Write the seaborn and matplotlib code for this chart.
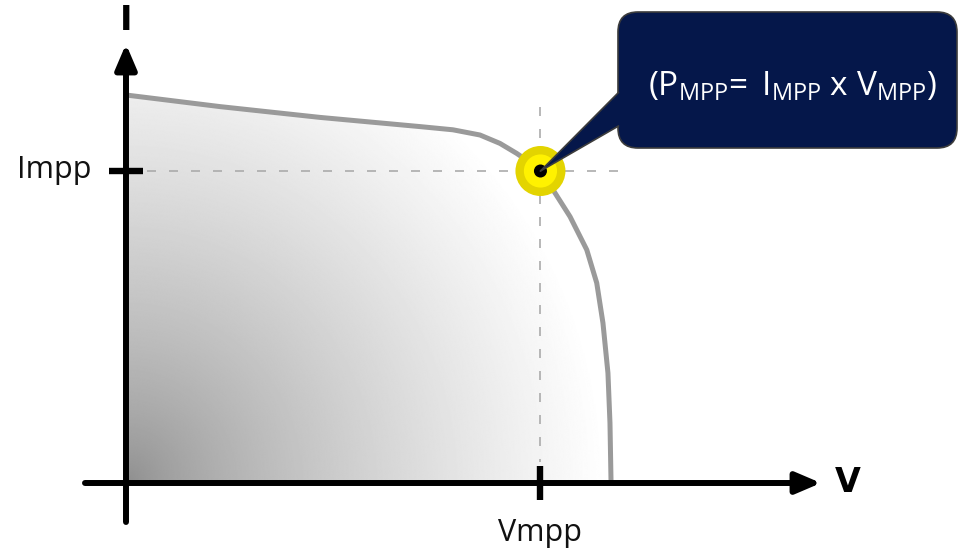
import numpy as np
import matplotlib
matplotlib.use('Agg')
import matplotlib.pyplot as plt
import seaborn as sns
from matplotlib.patches import FancyBboxPatch, Polygon

# I-V curve of the module
voltage = [0.0, 6.96, 14.37, 21.78, 24.22, 26.22, 27.70, 28.94, 30.72,
           31.63, 32.89, 34.13, 34.87, 35.33, 35.70, 35.85, 35.93]
current = [9.70, 9.41, 9.14, 8.91, 8.83, 8.70, 8.49, 8.24, 7.83,
           7.33, 6.66, 5.83, 5.00, 4.00, 2.75, 1.50, 0.0]

# maximum power point
v_mpp = 30.7
i_mpp = 7.8

tick_labels = ['Impp', 'Vmpp']
axis_labels = ['I', 'V']
callout_text = (r'(P$_\mathregular{MPP}$= $\,$I$_\mathregular{MPP}$ '
                r'x V$_\mathregular{MPP}$)')

# canvas layout: pixel position of the origin and pixels per unit
W, H = 959, 551
ORIGIN = (126, 483)
PX_V = 13.5
PX_I = 40.0


def vx(px):
    return (px - ORIGIN[0]) / PX_V


def iy(py):
    return (ORIGIN[1] - py) / PX_I


sns.set_theme(style='white')
plt.rcParams['font.family'] = ['Open Sans', 'DejaVu Sans']

fig = plt.figure(figsize=(W / 100, H / 100), dpi=100)
ax = fig.add_axes([0, 0, 1, 1])

# radial grey gradient under the curve, dark at the origin
gx = np.linspace(0, max(voltage), 400)
gy = np.linspace(0, max(current), 400)
GX, GY = np.meshgrid(gx, gy)
r = np.hypot(GX * PX_V / 480.0, GY * PX_I / 490.0)
shade = 0.55 + 0.45 * np.clip(r, 0, 1) ** 0.72
im = ax.imshow(shade, cmap='gray', vmin=0, vmax=1, origin='lower',
               extent=[0, max(voltage), 0, max(current)], aspect='auto',
               interpolation='bilinear', zorder=1)
clip = Polygon(np.column_stack([voltage + [voltage[-1], 0], current + [0, 0]]),
               closed=True, facecolor='none', edgecolor='none',
               transform=ax.transData)
ax.add_patch(clip)
im.set_clip_path(clip)

# the curve
sns.lineplot(x=voltage, y=current, ax=ax, color='#9a9a9a', linewidth=3.6,
             sort=False, estimator=None, zorder=3)
ax.lines[-1].set_solid_capstyle('butt')
ax.lines[-1].set_solid_joinstyle('round')

# dashed guides
dash = (0, (5.4, 7.8))
ax.plot([vx(147), vx(618)], [i_mpp, i_mpp], color='#ababab', lw=1.2,
        linestyle=dash, zorder=2)
ax.plot([v_mpp, v_mpp], [iy(107), iy(462)], color='#ababab', lw=1.2,
        linestyle=dash, zorder=2)

# axes with arrows
arrow = dict(arrowstyle='-|>,head_length=0.75,head_width=0.32', color='black',
             lw=4.3, shrinkA=0, shrinkB=0, mutation_scale=20)
ax.annotate('', xy=(0, iy(44)), xytext=(0, iy(522)), arrowprops=arrow, zorder=5)
ax.annotate('', xy=(vx(821), 0), xytext=(vx(85), 0), arrowprops=arrow, zorder=5)

# ticks at the MPP values
ax.plot([0], [i_mpp], marker='_', markersize=24.5, mew=4.6, color='black', zorder=5)
ax.plot([v_mpp], [0], marker='|', markersize=24.5, mew=4.6, color='black', zorder=5)

ax.text(vx(91), iy(178), tick_labels[0], fontsize=22, ha='right', va='baseline',
        color='#111111')
ax.text(v_mpp, iy(541), tick_labels[1], fontsize=22, ha='center', va='baseline',
        color='#111111')
ax.text(0, iy(20), axis_labels[0], fontsize=24, fontweight='bold',
        family='DejaVu Sans', ha='center', va='center', color='black')
ax.text(vx(848), 0, axis_labels[1], fontsize=24, fontweight='bold',
        family='DejaVu Sans', ha='center', va='center', color='black')

# MPP marker
sns.scatterplot(x=[v_mpp], y=[i_mpp], ax=ax, s=1296, color='#e3d400',
                edgecolor='none', zorder=6)
sns.scatterplot(x=[v_mpp], y=[i_mpp], ax=ax, s=570, color='#fff200',
                edgecolor='none', zorder=6)
sns.scatterplot(x=[v_mpp], y=[i_mpp], ax=ax, s=88, color='black',
                edgecolor='none', zorder=7)

# callout
navy = '#05174a'
box = FancyBboxPatch((vx(618), iy(148)), vx(957) - vx(618), iy(12) - iy(148),
                     boxstyle='round,pad=0,rounding_size=%f' % (20 / PX_V),
                     mutation_aspect=PX_V / PX_I, facecolor=navy,
                     edgecolor='#3c3c3c', lw=1.2, zorder=8)
ax.add_patch(box)
tail = Polygon([(v_mpp, i_mpp), (vx(624), iy(87)), (vx(624), iy(122.6))],
               closed=True, facecolor=navy, edgecolor='none', zorder=9)
ax.add_patch(tail)
ax.plot([v_mpp, vx(618.5)], [i_mpp, iy(92.5)], color='#3c3c3c', lw=1.2, zorder=9)
ax.plot([v_mpp, vx(618.5)], [i_mpp, iy(126)], color='#3c3c3c', lw=1.2, zorder=9)
ax.text(vx(792), iy(95), callout_text, fontsize=24, color='white',
        ha='center', va='baseline', zorder=10)

ax.set_xlim(vx(0), vx(W))
ax.set_ylim(iy(H), iy(0))
ax.axis('off')

fig.savefig('out.png', dpi=100)
